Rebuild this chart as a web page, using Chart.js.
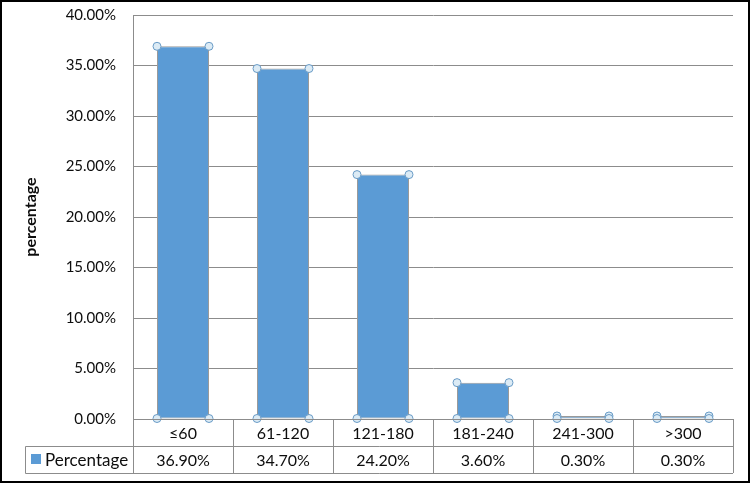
<!DOCTYPE html>
<html>
<head>
<meta charset="utf-8">
<script src="https://cdn.jsdelivr.net/npm/chart.js@4.4.0/dist/chart.umd.min.js"></script>
<style>
    body { margin: 0; background: #fff; }
    #wrap { width: 750px; height: 483px; }
</style>
</head>
<body>
<div id="wrap"><canvas id="grafico1" width="750" height="483"></canvas></div>
<script>
const categorias = ['≤60', '61-120', '121-180', '181-240', '241-300', '>300'];
const percentuais = [36.9, 34.7, 24.2, 3.6, 0.3, 0.3];
const nomeSerie = 'Percentage';
const tituloY = 'percentage';

const fonte = 'Lato, "Open Sans", sans-serif';
const corBarra = '#5b9bd5';
const corLinha = '#8c8c8c';
const corTexto = '#0d0d0d';

// moldura preta em volta de tudo
const moldura = {
    id: 'moldura',
    beforeDraw(chart) {
        const ctx = chart.ctx;
        ctx.save();
        ctx.fillStyle = '#fff';
        ctx.fillRect(0, 0, chart.width, chart.height);
        ctx.restore();
    },
    afterDraw(chart) {
        const ctx = chart.ctx;
        ctx.save();
        ctx.strokeStyle = '#000';
        ctx.lineWidth = 2;
        ctx.strokeRect(1, 1, chart.width - 2, chart.height - 2);
        ctx.restore();
    }
};

// tabela de dados embaixo do grafico (estilo Excel)
const tabela = {
    id: 'tabela',
    afterDraw(chart) {
        const ctx = chart.ctx;
        const x = chart.scales.x;
        const area = chart.chartArea;
        const y0 = area.bottom;
        const y1 = y0 + 27;
        const y2 = y1 + 27;
        const esq = 25;
        const larg = x.getPixelForValue(1) - x.getPixelForValue(0);

        ctx.save();
        ctx.strokeStyle = corLinha;
        ctx.lineWidth = 1;
        ctx.beginPath();
        for (let i = 0; i <= categorias.length; i++) {
            const xi = Math.round(x.getPixelForValue(i) - larg / 2) + 0.5;
            ctx.moveTo(xi, y0);
            ctx.lineTo(xi, y2);
        }
        ctx.moveTo(area.left, Math.round(y0) + 0.5);
        ctx.lineTo(area.right, Math.round(y0) + 0.5);
        ctx.moveTo(esq + 0.5, Math.round(y1) + 0.5);
        ctx.lineTo(area.right, Math.round(y1) + 0.5);
        ctx.moveTo(esq + 0.5, Math.round(y2) + 0.5);
        ctx.lineTo(area.right, Math.round(y2) + 0.5);
        ctx.moveTo(esq + 0.5, Math.round(y1) + 0.5);
        ctx.lineTo(esq + 0.5, Math.round(y2) + 0.5);
        ctx.stroke();

        ctx.fillStyle = corTexto;
        ctx.font = '16px ' + fonte;
        ctx.textAlign = 'center';
        ctx.textBaseline = 'middle';
        for (let i = 0; i < categorias.length; i++) {
            const cx = x.getPixelForValue(i);
            ctx.fillText(categorias[i], cx, (y0 + y1) / 2 + 1);
            ctx.fillText(percentuais[i].toFixed(2) + '%', cx, (y1 + y2) / 2 + 1);
        }

        ctx.fillStyle = corBarra;
        ctx.fillRect(esq + 6, y1 + 8, 10, 10);
        ctx.fillStyle = corTexto;
        ctx.textAlign = 'left';
        ctx.font = '17px ' + fonte;
        ctx.fillText(nomeSerie, esq + 20, (y1 + y2) / 2 + 1);
        ctx.restore();
    }
};

// bolinhas de selecao nos cantos das barras
const alcas = {
    id: 'alcas',
    afterDatasetsDraw(chart) {
        const ctx = chart.ctx;
        const meta = chart.getDatasetMeta(0);
        ctx.save();
        ctx.lineWidth = 1;
        meta.data.forEach(barra => {
            const w = barra.width / 2;
            const pontos = [
                [barra.x - w, barra.y], [barra.x + w, barra.y],
                [barra.x - w, barra.base], [barra.x + w, barra.base]
            ];
            pontos.forEach(p => {
                ctx.beginPath();
                ctx.arc(p[0], p[1], 4, 0, Math.PI * 2);
                ctx.fillStyle = '#dcebf5';
                ctx.fill();
                ctx.strokeStyle = '#6a9cc7';
                ctx.stroke();
            });
        });
        ctx.restore();
    }
};

new Chart(document.getElementById('grafico1'), {
    type: 'bar',
    data: {
        labels: categorias,
        datasets: [{
            label: nomeSerie,
            data: percentuais,
            backgroundColor: corBarra,
            borderColor: '#9a9a9a',
            borderWidth: 1,
            borderSkipped: false,
            categoryPercentage: 0.52,
            barPercentage: 1
        }]
    },
    options: {
        responsive: false,
        animation: false,
        events: [],
        layout: { padding: { top: 15, right: 17, bottom: 64, left: 0 } },
        plugins: {
            legend: { display: false },
            tooltip: { enabled: false }
        },
        scales: {
            x: { display: false },
            y: {
                min: 0,
                max: 40,
                afterFit(scale) {
                    scale.width = 133;
                    scale.paddingTop = 0;
                    scale.paddingBottom = 0;
                },
                ticks: {
                    stepSize: 5,
                    padding: 17,
                    color: corTexto,
                    font: { family: fonte, size: 15 },
                    callback: v => v.toFixed(2) + '%'
                },
                grid: { color: corLinha, drawTicks: false },
                border: { display: true, color: corLinha },
                title: {
                    display: true,
                    text: tituloY,
                    color: corTexto,
                    font: { family: fonte, size: 16, weight: 'bold' },
                    padding: { top: 21, bottom: 0 }
                }
            }
        }
    },
    plugins: [moldura, tabela, alcas]
});
</script>
</body>
</html>
